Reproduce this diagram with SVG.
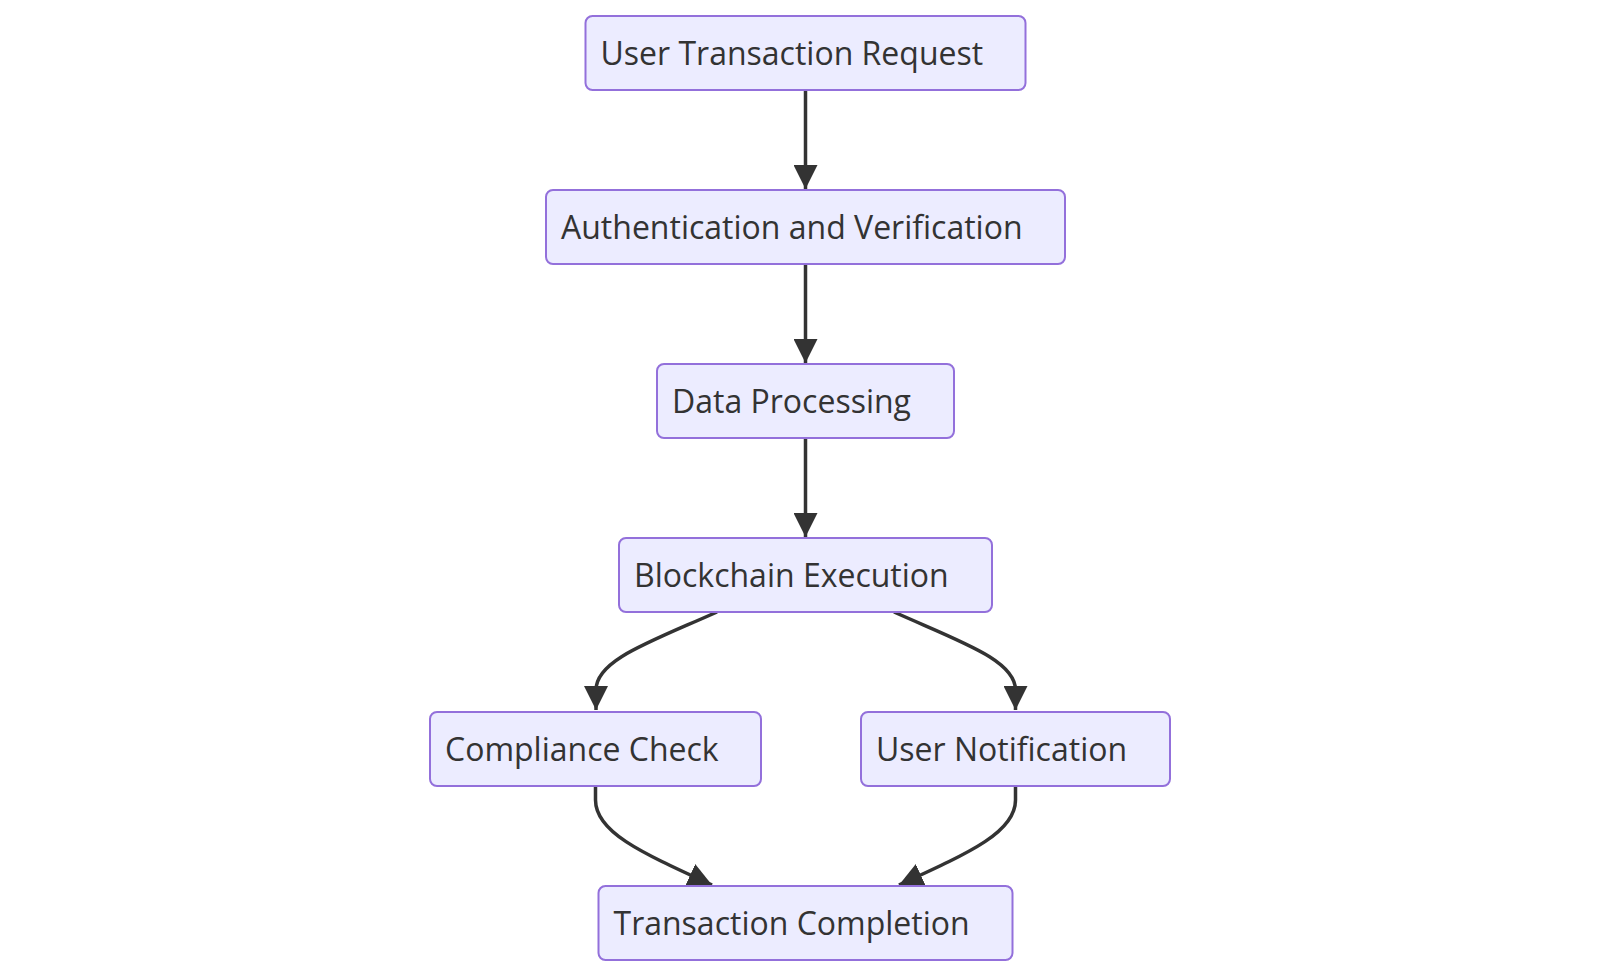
<svg xmlns="http://www.w3.org/2000/svg" width="1600" height="976" viewBox="0 0 1600 976">
<style>
.node rect{fill:#ECECFF;stroke:#9370DB;stroke-width:2}
.node text{font-family:"Open Sans","Noto Sans",sans-serif;font-size:32px;fill:#333333}
.edge{fill:none;stroke:#333333;stroke-width:3.5}
</style>
<defs>
<marker id="arrow" viewBox="0 0 10 10" refX="10" refY="5" markerUnits="userSpaceOnUse" markerWidth="24" markerHeight="24" orient="auto">
<path d="M0,0 L10,5 L0,10 z" fill="#333333"/>
</marker>
</defs>
<rect width="1600" height="976" fill="#ffffff"/>
<g id="edges">
<path class="edge" d="M805.5,90 L805.5,189" marker-end="url(#arrow)"/>
<path class="edge" d="M805.5,264 L805.5,363" marker-end="url(#arrow)"/>
<path class="edge" d="M805.5,438 L805.5,537" marker-end="url(#arrow)"/>
<path class="edge" d="M717,612 C650,642 596,660 596,690 L596,710" marker-end="url(#arrow)"/>
<path class="edge" d="M894,612 C961,642 1015.5,660 1015.5,690 L1015.5,710" marker-end="url(#arrow)"/>
<path class="edge" d="M595.5,786 L595.5,800 C595.5,832 640,852 712,885" marker-end="url(#arrow)"/>
<path class="edge" d="M1015.5,786 L1015.5,800 C1015.5,832 971,852 899,885" marker-end="url(#arrow)"/>
</g>
<g id="n1" class="node"><rect x="585.5" y="16" width="440" height="74" rx="7"/><text x="600.5" y="65">User Transaction Request</text></g>
<g id="n2" class="node"><rect x="546" y="190" width="519" height="74" rx="7"/><text x="561" y="239">Authentication and Verification</text></g>
<g id="n3" class="node"><rect x="657" y="364" width="297" height="74" rx="7"/><text x="672" y="413">Data Processing</text></g>
<g id="n4" class="node"><rect x="619" y="538" width="373" height="74" rx="7"/><text x="634" y="587">Blockchain Execution</text></g>
<g id="n5" class="node"><rect x="430" y="712" width="331" height="74" rx="7"/><text x="445" y="761">Compliance Check</text></g>
<g id="n6" class="node"><rect x="861" y="712" width="309" height="74" rx="7"/><text x="876" y="761">User Notification</text></g>
<g id="n7" class="node"><rect x="598.5" y="886" width="414" height="74" rx="7"/><text x="613.5" y="935">Transaction Completion</text></g>
</svg>
